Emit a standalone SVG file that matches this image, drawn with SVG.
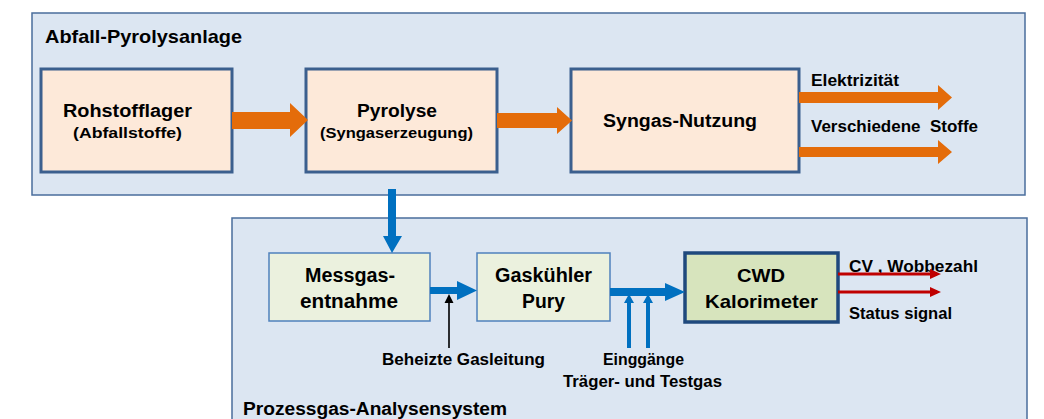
<svg xmlns="http://www.w3.org/2000/svg" width="1044" height="419" viewBox="0 0 1044 419">
<style>
text{font-family:"Liberation Sans",Arial,sans-serif;font-weight:bold;fill:#000}
.cont{fill:#dce6f2;stroke:#4a6d9c;stroke-width:1.5}
.obox{fill:#fde9d9;stroke:#3b5f8e;stroke-width:3}
.gbox{fill:#ebf1de;stroke:#4f81bd;stroke-width:1.5}
.cwd{fill:#d7e4bd;stroke:#1f497d;stroke-width:3.5}
.or{fill:#e46c0a}
.bl{fill:#0070c0}
.rd{fill:#c00000}
</style>
<g id="container-top">
<rect class="cont" x="32" y="13" width="993" height="182"/>
<text x="45" y="43" font-size="19" textLength="197" lengthAdjust="spacingAndGlyphs">Abfall-Pyrolysanlage</text>
</g>
<g id="container-bottom">
<rect class="cont" x="232" y="218" width="795" height="210"/>
<text x="243" y="415" font-size="18" textLength="264" lengthAdjust="spacingAndGlyphs">Prozessgas-Analysensystem</text>
</g>
<g id="rohstofflager">
<rect class="obox" x="41" y="69" width="191" height="103"/>
<text x="63" y="117" font-size="18" textLength="129" lengthAdjust="spacingAndGlyphs">Rohstofflager</text>
<text x="73" y="138" font-size="15" textLength="109" lengthAdjust="spacingAndGlyphs">(Abfallstoffe)</text>
</g>
<g id="pyrolyse">
<rect class="obox" x="306" y="69" width="191" height="103"/>
<text x="357" y="117" font-size="18" textLength="80" lengthAdjust="spacingAndGlyphs">Pyrolyse</text>
<text x="320" y="138" font-size="15" textLength="153" lengthAdjust="spacingAndGlyphs">(Syngaserzeugung)</text>
</g>
<g id="syngas">
<rect class="obox" x="571" y="69" width="228" height="103"/>
<text x="603" y="127" font-size="18" textLength="154" lengthAdjust="spacingAndGlyphs">Syngas-Nutzung</text>
</g>
<g id="messgas">
<rect class="gbox" x="269" y="253" width="161" height="68"/>
<text x="305" y="282" font-size="20" textLength="90" lengthAdjust="spacingAndGlyphs">Messgas-</text>
<text x="300" y="308" font-size="20" textLength="98" lengthAdjust="spacingAndGlyphs">entnahme</text>
</g>
<g id="gaskuehler">
<rect class="gbox" x="477" y="253" width="133" height="68"/>
<text x="495" y="282" font-size="20" textLength="97" lengthAdjust="spacingAndGlyphs">Gaskühler</text>
<text x="522" y="308" font-size="20" textLength="43" lengthAdjust="spacingAndGlyphs">Pury</text>
</g>
<g id="cwd">
<rect class="cwd" x="685" y="253" width="153" height="69"/>
<text x="737" y="282" font-size="19" textLength="48" lengthAdjust="spacingAndGlyphs">CWD</text>
<text x="705" y="308" font-size="19" textLength="113" lengthAdjust="spacingAndGlyphs">Kalorimeter</text>
</g>
<g id="labels">
<text x="811" y="86" font-size="17" textLength="88" lengthAdjust="spacingAndGlyphs">Elektrizität</text>
<text x="811" y="132" font-size="17" textLength="167" lengthAdjust="spacingAndGlyphs" style="white-space:pre">Verschiedene  Stoffe</text>
<text x="382" y="365" font-size="16" textLength="163" lengthAdjust="spacingAndGlyphs">Beheizte Gasleitung</text>
<text x="603" y="365" font-size="16" textLength="81" lengthAdjust="spacingAndGlyphs">Einggänge</text>
<text x="563" y="387" font-size="16" textLength="159" lengthAdjust="spacingAndGlyphs">Träger- und Testgas</text>
<text x="849" y="272" font-size="16" textLength="129" lengthAdjust="spacingAndGlyphs" style="white-space:pre">CV , Wobbezahl</text>
<text x="849" y="319" font-size="16" textLength="103" lengthAdjust="spacingAndGlyphs">Status signal</text>
</g>
<g id="connectors">
<polygon class="or" points="232,112 290,112 290,103 308,120 290,137 290,129 232,129"/>
<polygon class="or" points="497,113 557,113 557,107 572,120.5 557,134 557,128 497,128"/>
<polygon class="or" points="799,92 938,92 938,85 952,97.5 938,110 938,103 799,103"/>
<polygon class="or" points="799,147 938,147 938,140 952,152 938,164 938,157 799,157"/>
<polygon class="bl" points="388,189 396,189 396,236 402,236 392,253 383,236 388,236"/>
<polygon class="bl" points="430,287 457,287 457,281 477,290.5 457,300 457,294 430,294"/>
<polygon class="bl" points="610,288 665,288 665,283 685,292 665,301 665,296 610,296"/>
<polygon class="bl" points="627,348 631,348 631,303 634,303 629,294 624,303 627,303"/>
<polygon class="bl" points="646,348 650,348 650,303 653,303 648,294 643,303 646,303"/>
<polygon fill="#000" points="448.2,348 449.8,348 449.8,303 453.5,303 449,294 444.5,303 448.2,303"/>
<polygon class="rd" points="838,272.5 930,272.5 930,269 941,274 930,279 930,275.5 838,275.5"/>
<polygon class="rd" points="838,290.5 930,290.5 930,287 941,292 930,297 930,293.5 838,293.5"/>
</g>
</svg>
